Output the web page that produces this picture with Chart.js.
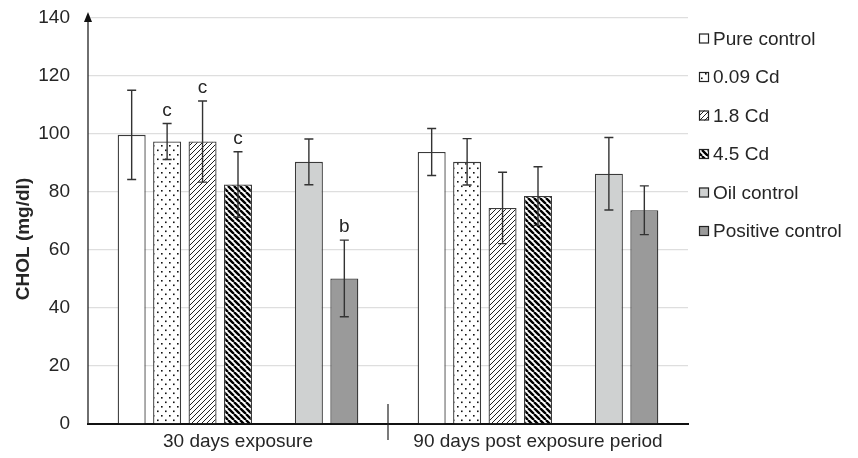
<!DOCTYPE html>
<html><head><meta charset="utf-8">
<script src="https://cdn.jsdelivr.net/npm/chart.js@4"></script>
<style>html,body{margin:0;padding:0;background:#fff}#wrap{width:858px;height:458px;position:relative}</style>
</head><body><div id="wrap"><canvas id="c"></canvas></div>
<script>
// ---- data ----
const categories = ['30 days exposure', '90 days post exposure period'];
const seriesNames = ['Pure control', '0.09 Cd', '1.8 Cd', '4.5 Cd', 'Oil control', 'Positive control'];
const pureControl = [99.7, 93.8];
const cd009 = [97.4, 90.4];
const cd18 = [97.4, 74.5];
const cd45 = [82.6, 78.6];
const oilControl = [90.4, 86.3];
const positiveControl = [50.2, 73.7];
const pureControlErr = [15.4, 8.1];
const cd009Err = [6.2, 8.0];
const cd18Err = [14.0, 12.3];
const cd45Err = [11.3, 10.1];
const oilControlErr = [7.9, 12.5];
const positiveControlErr = [13.2, 8.4];
const pureControlSig = ['', ''];
const cd009Sig = ['c', ''];
const cd18Sig = ['c', ''];
const cd45Sig = ['c', ''];
const oilControlSig = ['', ''];
const positiveControlSig = ['b', ''];
const yTickValues = [0, 20, 40, 60, 80, 100, 120, 140];
const yTitle = 'CHOL (mg/dl)';

// ---- fills ----
function makePattern(kind) {
  const t = document.createElement('canvas');
  const ctx = t.getContext('2d');
  if (kind === 'dots') {
    t.width = 8; t.height = 9;
    ctx.fillStyle = '#fff'; ctx.fillRect(0, 0, 8, 9);
    ctx.fillStyle = '#111';
    ctx.fillRect(1, 1, 1.6, 1.6);
    ctx.fillRect(5, 5.5, 1.6, 1.6);
  } else if (kind === 'fine') {
    t.width = 5; t.height = 5;
    ctx.fillStyle = '#fff'; ctx.fillRect(0, 0, 5, 5);
    ctx.strokeStyle = '#222'; ctx.lineWidth = 1;
    ctx.beginPath();
    for (let k = -1; k <= 1; k++) { ctx.moveTo(k * 5, 5); ctx.lineTo(k * 5 + 5, 0); }
    ctx.stroke();
  } else {
    t.width = 6; t.height = 6;
    ctx.fillStyle = '#fff'; ctx.fillRect(0, 0, 6, 6);
    ctx.strokeStyle = '#000'; ctx.lineWidth = 2.4;
    ctx.beginPath();
    for (let k = -1; k <= 1; k++) { ctx.moveTo(k * 6, 0); ctx.lineTo(k * 6 + 6, 6); }
    ctx.stroke();
  }
  return t.getContext('2d').createPattern(t, 'repeat');
}
const fills = ['#ffffff', makePattern('dots'), makePattern('fine'), makePattern('thick'), '#cfd1d1', '#9a9a9a'];
const seriesValues = [pureControl, cd009, cd18, cd45, oilControl, positiveControl];
const seriesErrs = [pureControlErr, cd009Err, cd18Err, cd45Err, oilControlErr, positiveControlErr];
const seriesSig = [pureControlSig, cd009Sig, cd18Sig, cd45Sig, oilControlSig, positiveControlSig];

const FONT = '"Liberation Sans", Arial, sans-serif';
const FS = 19;
const TXT = '#262626';

const datasets = [];
seriesNames.forEach((name, i) => {
  if (i === 4) {
    datasets.push({ label: '', data: categories.map(() => null), spacer: true, backgroundColor: 'rgba(0,0,0,0)', borderWidth: 0 });
  }
  datasets.push({
    label: name, data: seriesValues[i], err: seriesErrs[i], sig: seriesSig[i],
    backgroundColor: fills[i], borderColor: '#3a3a3a', borderWidth: 1.3,
    barPercentage: 0.79, categoryPercentage: 0.827
  });
});

const errorBars = {
  id: 'errorBars',
  afterDatasetsDraw(chart) {
    const ctx = chart.ctx, y = chart.scales.y;
    ctx.save();
    chart.data.datasets.forEach((ds, di) => {
      if (ds.spacer) return;
      const meta = chart.getDatasetMeta(di);
      meta.data.forEach((bar, j) => {
        const v = ds.data[j], e = ds.err[j];
        const yt = y.getPixelForValue(v + e), yb = y.getPixelForValue(v - e);
        ctx.strokeStyle = '#333'; ctx.lineWidth = 1.4;
        ctx.beginPath();
        ctx.moveTo(bar.x, yt); ctx.lineTo(bar.x, yb);
        ctx.moveTo(bar.x - 4.5, yt); ctx.lineTo(bar.x + 4.5, yt);
        ctx.moveTo(bar.x - 4.5, yb); ctx.lineTo(bar.x + 4.5, yb);
        ctx.stroke();
        if (ds.sig[j]) {
          ctx.fillStyle = TXT; ctx.font = FS + 'px ' + FONT;
          ctx.textAlign = 'center'; ctx.textBaseline = 'alphabetic';
          ctx.fillText(ds.sig[j], bar.x, yt - 8);
        }
      });
    });
    ctx.restore();
  }
};

const axisDecor = {
  id: 'axisDecor',
  afterDraw(chart) {
    const ctx = chart.ctx, a = chart.chartArea, x = chart.scales.x;
    ctx.save();
    // arrow on y axis
    ctx.strokeStyle = '#222'; ctx.lineWidth = 1.3;
    ctx.beginPath(); ctx.moveTo(a.left, a.bottom); ctx.lineTo(a.left, a.top - 3); ctx.stroke();
    ctx.fillStyle = '#111';
    ctx.beginPath();
    ctx.moveTo(a.left, a.top - 6); ctx.lineTo(a.left - 4, a.top + 4); ctx.lineTo(a.left + 4, a.top + 4); ctx.closePath(); ctx.fill();
    // divider tick between categories
    const xm = (x.getPixelForTick(0) + x.getPixelForTick(1)) / 2;
    ctx.strokeStyle = '#222'; ctx.lineWidth = 1.2;
    ctx.beginPath(); ctx.moveTo(xm, a.bottom - 20); ctx.lineTo(xm, a.bottom + 16); ctx.stroke();
    // y title
    ctx.save();
    ctx.translate(24, (a.top + a.bottom) / 2 + 18);
    ctx.rotate(-Math.PI / 2);
    ctx.font = 'bold ' + FS + 'px ' + FONT; ctx.fillStyle = TXT;
    ctx.textAlign = 'center'; ctx.textBaseline = 'middle';
    ctx.fillText(yTitle, 0, 0);
    ctx.restore();
    // legend
    ctx.font = FS + 'px ' + FONT; ctx.textBaseline = 'middle'; ctx.textAlign = 'left';
    seriesNames.forEach((name, i) => {
      const cy = 38.5 + i * 38.5;
      ctx.fillStyle = fills[i];
      ctx.fillRect(699, cy - 5, 10, 10);
      ctx.strokeStyle = '#222'; ctx.lineWidth = 1.2;
      ctx.strokeRect(699.5, cy - 4.5, 9, 9);
      ctx.fillStyle = TXT;
      ctx.fillText(name, 713, cy + 1);
    });
    ctx.restore();
  }
};

new Chart(document.getElementById('c'), {
  type: 'bar',
  data: { labels: categories, datasets },
  options: {
    responsive: true, maintainAspectRatio: false, animation: false,
    layout: { padding: { top: 0, right: 170, left: 0, bottom: 0 } },
    plugins: { legend: { display: false }, tooltip: { enabled: false } },
    scales: {
      x: {
        grid: { display: false, offset: true, drawTicks: false },
        border: { display: true, color: '#111', width: 2 },
        ticks: { color: TXT, font: { family: FONT, size: FS }, padding: 6 },
        afterFit(s) { s.height = 34; }
      },
      y: {
        min: 0, max: 140,
        afterBuildTicks(s) { s.ticks = yTickValues.map(v => ({ value: v })); },
        grid: { color: '#dedede', lineWidth: 1.3, drawTicks: true, tickLength: 11.4, tickColor: 'rgba(0,0,0,0)' },
        border: { display: false },
        ticks: { color: TXT, font: { family: FONT, size: FS }, padding: 6.6 },
        afterFit(s) { s.width = 88; }
      }
    }
  },
  plugins: [errorBars, axisDecor]
});
</script></body></html>
